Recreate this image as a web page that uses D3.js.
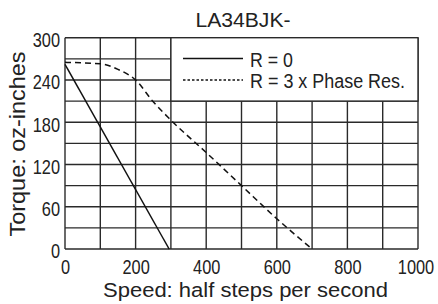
<!DOCTYPE html>
<html>
<head>
<meta charset="utf-8">
<script src="https://cdn.jsdelivr.net/npm/d3@7"></script>
<style>
body { margin: 0; background: #fff; }
svg { display: block; }
text { font-family: "Liberation Sans", Arial, sans-serif; fill: #222; }
</style>
</head>
<body>
<svg width="438" height="304"></svg>
<script>
var svg = d3.select("svg"),
    width = +svg.attr("width"),
    height = +svg.attr("height");

// data
var title = "LA34BJK-";
var speedR0 = [0, 295];
var torqueR0 = [262, 0];
var speedR3 = [0, 100, 150, 200, 250, 300, 400, 500, 600, 700];
var torqueR3 = [265, 263, 255, 240, 209, 183, 137, 90, 43, 0];
var xTicks = [0, 200, 400, 600, 800, 1000];
var yTicks = [0, 60, 120, 180, 240, 300];
var legendLabels = ["R = 0", "R = 3 x Phase Res."];

var x = d3.scaleLinear().domain([0, 1000]).range([65, 418]);
var y = d3.scaleLinear().domain([0, 300]).range([249, 37.7]);

var grid = svg.append("g").attr("stroke", "#2a2a2a").attr("stroke-width", 1.4);
grid.selectAll(".v").data(d3.range(0, 1001, 100)).enter()
  .append("line").attr("class", "v")
  .attr("x1", function(d) { return x(d); }).attr("x2", function(d) { return x(d); })
  .attr("y1", y(0)).attr("y2", y(300));
grid.selectAll(".h").data(d3.range(0, 301, 30)).enter()
  .append("line").attr("class", "h")
  .attr("y1", function(d) { return y(d); }).attr("y2", function(d) { return y(d); })
  .attr("x1", x(0)).attr("x2", x(1000));

// axes, labels only
var xAxis = svg.append("g").attr("transform", "translate(0," + y(0) + ")")
  .call(d3.axisBottom(x).tickValues(xTicks).tickFormat(d3.format("d")).tickSize(0).tickPadding(11));
var yAxis = svg.append("g").attr("transform", "translate(" + x(0) + ",0)")
  .call(d3.axisLeft(y).tickValues(yTicks).tickFormat(d3.format("d")).tickSize(0).tickPadding(5));
[xAxis, yAxis].forEach(function(a) {
  a.select(".domain").remove();
  a.selectAll("text").attr("font-size", 19.5).attr("font-family", null).attr("fill", "#222")
    .attr("textLength", function(d) { return String(d).length * 9.1; })
    .attr("lengthAdjust", "spacingAndGlyphs");
});
yAxis.selectAll("text").attr("dy", "0.45em");
xAxis.selectAll(".tick").filter(function(d) { return d === 1000; })
  .select("text").attr("dx", -2.5);

// curves
var line = d3.line().x(function(d) { return x(d[0]); }).y(function(d) { return y(d[1]); });
svg.append("path").datum(d3.zip(speedR0, torqueR0))
  .attr("d", line).attr("fill", "none").attr("stroke", "#111").attr("stroke-width", 1.5);
svg.append("path").datum(d3.zip(speedR3, torqueR3))
  .attr("d", line.curve(d3.curveMonotoneX)).attr("fill", "none").attr("stroke", "#111")
  .attr("stroke-width", 1.5).attr("stroke-dasharray", "6,4");

// legend box
svg.append("rect").attr("x", x(300)).attr("y", y(300))
  .attr("width", x(1000) - x(300)).attr("height", y(210) - y(300))
  .attr("fill", "#fff").attr("stroke", "#2a2a2a").attr("stroke-width", 1.4);
var lg = svg.append("g");
lg.selectAll("line").data(legendLabels).enter().append("line")
  .attr("x1", 183).attr("x2", 243)
  .attr("y1", function(d, i) { return 58.5 + i * 21.5; })
  .attr("y2", function(d, i) { return 58.5 + i * 21.5; })
  .attr("stroke", "#111").attr("stroke-width", 1.5)
  .attr("stroke-dasharray", function(d, i) { return i ? "2.5,2" : null; });
lg.selectAll("text").data(legendLabels).enter().append("text")
  .attr("x", 250).attr("y", function(d, i) { return 66.7 + i * 21.6; })
  .attr("font-size", 19.5)
  .attr("textLength", function(d, i) { return i ? 155 : 43; })
  .attr("lengthAdjust", "spacingAndGlyphs")
  .text(function(d) { return d; });

// titles
svg.append("text").attr("x", 243).attr("y", 26.7).attr("text-anchor", "middle")
  .attr("font-size", 20).attr("textLength", 95).attr("lengthAdjust", "spacingAndGlyphs")
  .text(title);
svg.append("text").attr("x", 245.5).attr("y", 296.5).attr("text-anchor", "middle")
  .attr("font-size", 20.5).attr("textLength", 285).attr("lengthAdjust", "spacingAndGlyphs")
  .text("Speed: half steps per second");
svg.append("text").attr("transform", "translate(24.5,144) rotate(-90)").attr("text-anchor", "middle")
  .attr("font-size", 21.5).attr("textLength", 185).attr("lengthAdjust", "spacingAndGlyphs")
  .text("Torque: oz-inches");
</script>
</body>
</html>
